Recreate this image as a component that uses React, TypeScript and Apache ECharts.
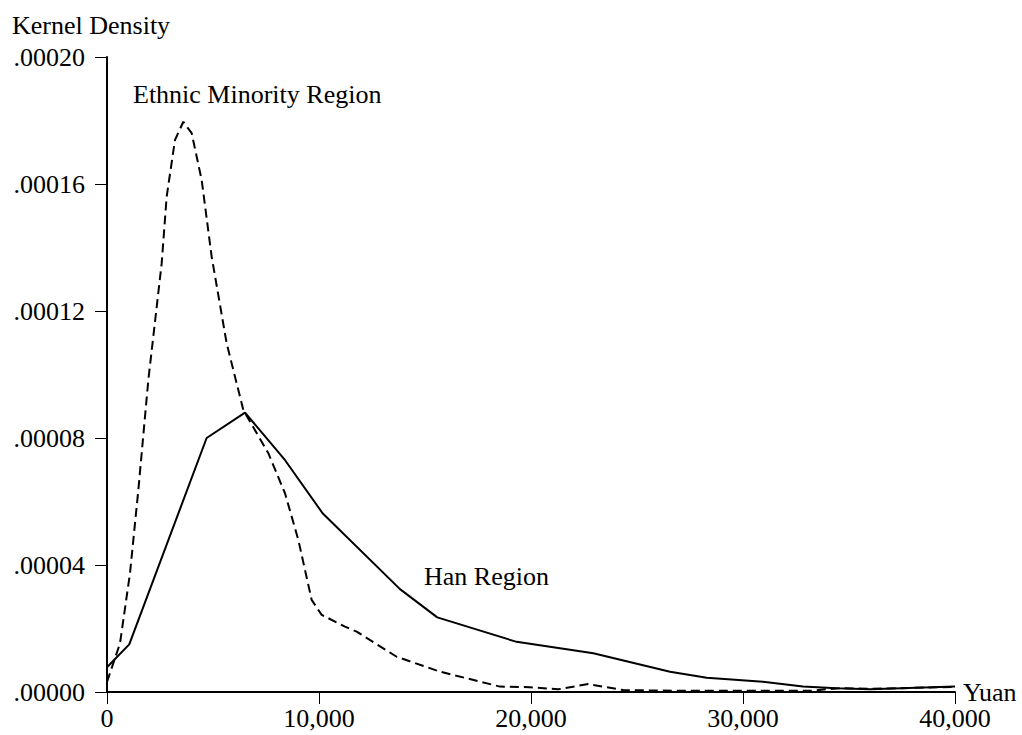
import React, { useEffect, useRef } from "react";
import * as echarts from "echarts";

// Kernel density estimates of income (Yuan) for two regions
const hanIncome = [0, 1050, 4700, 6510, 8400, 10170, 13820, 15580, 19320, 22940, 26560, 28290, 30940, 32830, 34400, 36000, 40000];
const hanDensity = [0.0000078, 0.000015, 0.00008, 0.000088, 0.000073, 0.0000563, 0.0000324, 0.0000235, 0.0000158, 0.0000122, 0.0000064, 0.0000045, 0.0000032, 0.0000017, 0.0000012, 0.0000009, 0.0000017];

const ethnicIncome = [0, 613, 1085, 1478, 1950, 2579, 2814, 3208, 3601, 3994, 4465, 4937, 5645, 6195, 6431, 7610, 8396, 9025, 9654, 10126, 11226, 11777, 13663, 15708, 18538, 19953, 21289, 22703, 24356, 27000, 30000, 33200, 34500, 36000, 40000];
const ethnicDensity = [0.0000032, 0.0000153, 0.0000374, 0.0000636, 0.0000983, 0.000135, 0.000156, 0.0001739, 0.0001796, 0.000176, 0.0001613, 0.0001371, 0.0001098, 0.0000951, 0.0000888, 0.0000752, 0.0000626, 0.0000479, 0.000029, 0.0000243, 0.0000206, 0.000019, 0.0000111, 0.0000064, 0.0000017, 0.0000015, 0.00000085, 0.0000025, 0.0000006, 0.0000004, 0.0000004, 0.0000004, 0.0000012, 0.000001, 0.0000016];

const xTicks = { min: 0, max: 40000, step: 10000 };
const yTicks = { min: 0, max: 0.0002, step: 0.00004 };

const FONT = '"Liberation Serif", "Times New Roman", serif';

export default function App() {
  const ref = useRef<HTMLDivElement>(null);

  useEffect(() => {
    if (!ref.current) return;
    const chart = echarts.init(ref.current, null, { renderer: "svg" });
    const pairs = (xs: number[], ys: number[]) => xs.map((x, i) => [x, ys[i]]);

    chart.setOption({
      animation: false,
      backgroundColor: "#ffffff",
      textStyle: { fontFamily: FONT, color: "#000" },
      grid: { left: 107, right: 67, top: 57, bottom: 43, containLabel: false },
      xAxis: {
        type: "value",
        min: xTicks.min,
        max: xTicks.max,
        interval: xTicks.step,
        name: "Yuan",
        nameLocation: "end",
        nameGap: 8,
        nameTextStyle: {
          fontFamily: FONT,
          fontSize: 26,
          color: "#000",
          verticalAlign: "middle",
          padding: [0, 0, 12, 0],
        },
        axisLine: { lineStyle: { color: "#000", width: 2 } },
        axisTick: { show: true, inside: false, length: 12, lineStyle: { color: "#000", width: 1 } },
        axisLabel: {
          margin: 13,
          fontFamily: FONT,
          fontSize: 26,
          color: "#000",
          formatter: (v: number) => v.toLocaleString("en-US"),
        },
        splitLine: { show: false },
      },
      yAxis: {
        type: "value",
        min: yTicks.min,
        max: yTicks.max,
        interval: yTicks.step,
        axisLine: { show: true, lineStyle: { color: "#000", width: 2 } },
        axisTick: { show: true, inside: false, length: 12, lineStyle: { color: "#000", width: 1 } },
        axisLabel: {
          margin: 22,
          fontFamily: FONT,
          fontSize: 26,
          color: "#000",
          formatter: (v: number) => v.toFixed(5).replace(/^0/, ""),
        },
        splitLine: { show: false },
      },
      graphic: [
        {
          type: "text",
          left: 12,
          top: 12,
          style: { text: "Kernel Density", font: `26px ${FONT}`, fill: "#000" },
        },
        {
          type: "text",
          left: 133,
          top: 81,
          style: { text: "Ethnic Minority Region", font: `26px ${FONT}`, fill: "#000" },
        },
        {
          type: "text",
          left: 424,
          top: 563,
          style: { text: "Han Region", font: `26px ${FONT}`, fill: "#000" },
        },
      ],
      series: [
        {
          name: "Ethnic Minority Region",
          type: "line",
          data: pairs(ethnicIncome, ethnicDensity),
          showSymbol: false,
          symbol: "none",
          lineStyle: { color: "#000", width: 2, type: [9, 5] },
          z: 2,
        },
        {
          name: "Han Region",
          type: "line",
          data: pairs(hanIncome, hanDensity),
          showSymbol: false,
          symbol: "none",
          lineStyle: { color: "#000", width: 2, type: "solid" },
          z: 3,
        },
      ],
    });

    return () => chart.dispose();
  }, []);

  return (
    <div
      ref={ref}
      style={{ position: "fixed", left: 0, top: 0, width: 1022, height: 735, background: "#fff" }}
    />
  );
}
